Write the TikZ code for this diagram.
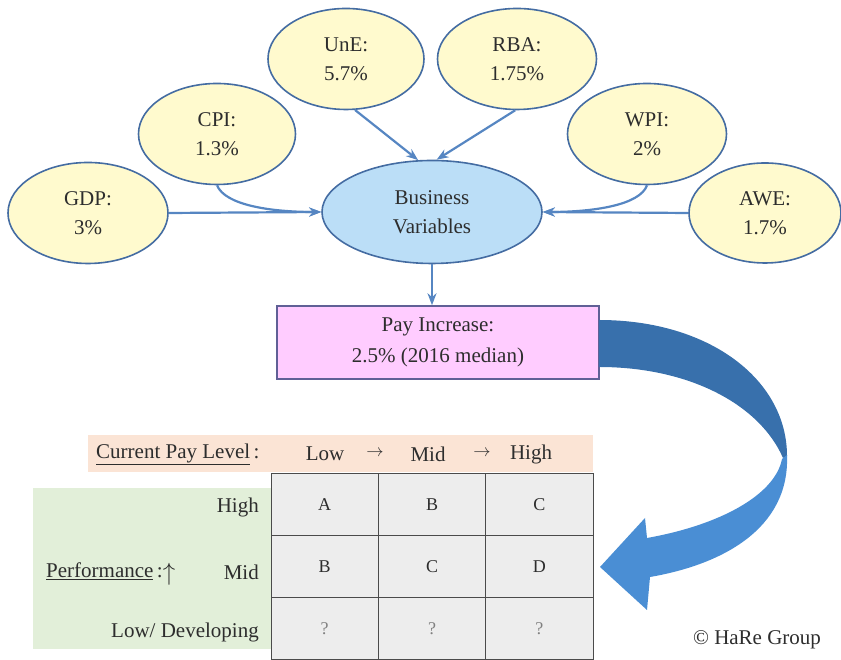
\documentclass[tikz,border=0pt]{standalone}
\usepackage{fontspec}
\setmainfont{LiberationSerif}[Extension=.ttf, UprightFont=*-Regular, BoldFont=*-Bold, ItalicFont=*-Italic, BoldItalicFont=*-BoldItalic]
\usetikzlibrary{shapes.geometric,arrows.meta}
\definecolor{bubfill}{RGB}{255,250,206}
\definecolor{bubedge}{RGB}{68,108,162}
\definecolor{bvfill}{RGB}{187,222,247}
\definecolor{payfill}{RGB}{255,204,255}
\definecolor{payedge}{RGB}{96,96,150}
\definecolor{linkblue}{RGB}{86,134,194}
\definecolor{txtgray}{RGB}{45,45,45}
\definecolor{peach}{RGB}{251,228,213}
\definecolor{palegreen}{RGB}{226,239,217}
\definecolor{cellgray}{RGB}{237,237,237}
\definecolor{gridline}{RGB}{75,75,75}
\definecolor{turndark}{RGB}{56,112,172}
\definecolor{turnlight}{RGB}{74,142,212}

\begin{document}
\begin{tikzpicture}[x=1pt,y=1pt]
\tikzset{bubble/.style={draw=bubedge, fill=bubfill, ellipse, line width=1.6pt, inner sep=0pt,
    minimum width=157pt, minimum height=101pt, align=center, text=txtgray,
    font=\fontsize{21}{29}\selectfont}}
\tikzset{link/.style={draw=linkblue, line width=2.2pt, -{Stealth[length=12pt,width=9pt]}}}
\tikzset{cell/.style={draw=gridline, fill=cellgray, line width=0.9pt, inner sep=0pt,
    minimum width=107.3pt, minimum height=62.3pt, text=txtgray, font=\fontsize{18}{20}\selectfont}}
\tikzset{lbl/.style={inner sep=0pt, text=txtgray, font=\fontsize{21}{26}\selectfont}}
\useasboundingbox (0,0) rectangle (841,660);

% bands behind the grid
\fill[peach] (88,188) rectangle (593,225);
\fill[palegreen] (33,11) rectangle (271,172);

% indicators
\node[bubble, minimum width=160pt] (GDP) at (88,447) {GDP:\\3\%};
\node[bubble] (CPI) at (217,526) {CPI:\\1.3\%};
\node[bubble, minimum width=156pt] (UnE) at (346,601) {UnE:\\5.7\%};
\node[bubble, minimum width=159pt] (RBA) at (517,601) {RBA:\\1.75\%};
\node[bubble, minimum width=159pt] (WPI) at (647,526) {WPI:\\2\%};
\node[bubble, minimum width=152pt, minimum height=100pt] (AWE) at (765,447) {AWE:\\1.7\%};
\node[bubble, fill=bvfill, minimum width=220pt, minimum height=103pt] (BV) at (432,448) {Business\\Variables};

\node[draw=payedge, fill=payfill, line width=1.5pt, minimum width=322pt, minimum height=73pt,
    align=center, text=txtgray, font=\fontsize{21}{31}\selectfont] (PAY) at (438,317.5)
    {Pay Increase:\\2.5\% (2016 median)};

\draw[link] (GDP.east) -- (BV.west);
\draw[link] (CPI.south) .. controls (225,455) and (270,448) .. (BV.west);
\draw[link] (UnE.-80) -- (BV.105);
\draw[link] (RBA.-92) -- (BV.85);
\draw[link] (WPI.south) .. controls (640,455) and (594,448) .. (BV.east);
\draw[link] (AWE.west) -- (BV.east);
\draw[link] (BV.south) -- (BV.south |- PAY.north);

% turning arrow
\fill[turndark] (599,340) .. controls (710,340) and (787,280) .. (787,204)
  -- (783,202) .. controls (760,255) and (690,293) .. (599,293) -- cycle;
\fill[turnlight] (787,205) .. controls (790,130) and (720,95) .. (650,83)
  -- (647,50) -- (600,93) -- (645,142) -- (647,122)
  .. controls (720,135) and (775,165) .. (782,201) -- cycle;

% pay level grid
\node[lbl, anchor=west] (CPL) at (96,206) {\underline{Current Pay Level}\,:};
\node[lbl] (LVlow) at (325,206) {Low};
\node[lbl, font=\fontsize{19}{19}\selectfont] (ARone) at (375,207) {$\rightarrow$};
\node[lbl] (LVmid) at (428,206) {Mid};
\node[lbl, font=\fontsize{19}{19}\selectfont] (ARtwo) at (482,207) {$\rightarrow$};
\node[lbl] (LVhigh) at (531,206) {High};

\node[cell] (A1) at (324.7,155.8) {A};
\node[cell] (B1) at (432,155.8) {B};
\node[cell] (C1) at (539.3,155.8) {C};
\node[cell] (B2) at (324.7,93.5) {B};
\node[cell] (C2) at (432,93.5) {C};
\node[cell] (D2) at (539.3,93.5) {D};
\node[cell, text=gray] (Q1) at (324.7,31.2) {?};
\node[cell, text=gray] (Q2) at (432,31.2) {?};
\node[cell, text=gray] (Q3) at (539.3,31.2) {?};

\node[lbl, anchor=east] (PFhigh) at (259,153) {High};
\node[lbl, anchor=east] (PFmid) at (259,88) {Mid};
\node[lbl, anchor=east] (PFlow) at (259,28) {Low/ Developing};
\node[lbl, anchor=west] (PERF) at (46,86)
  {\underline{Performance}\,:\raisebox{-3pt}{\fontsize{30}{30}\selectfont$\uparrow$}};

\node[lbl] (HARE) at (757,20) {© HaRe Group};
\end{tikzpicture}
\end{document}
